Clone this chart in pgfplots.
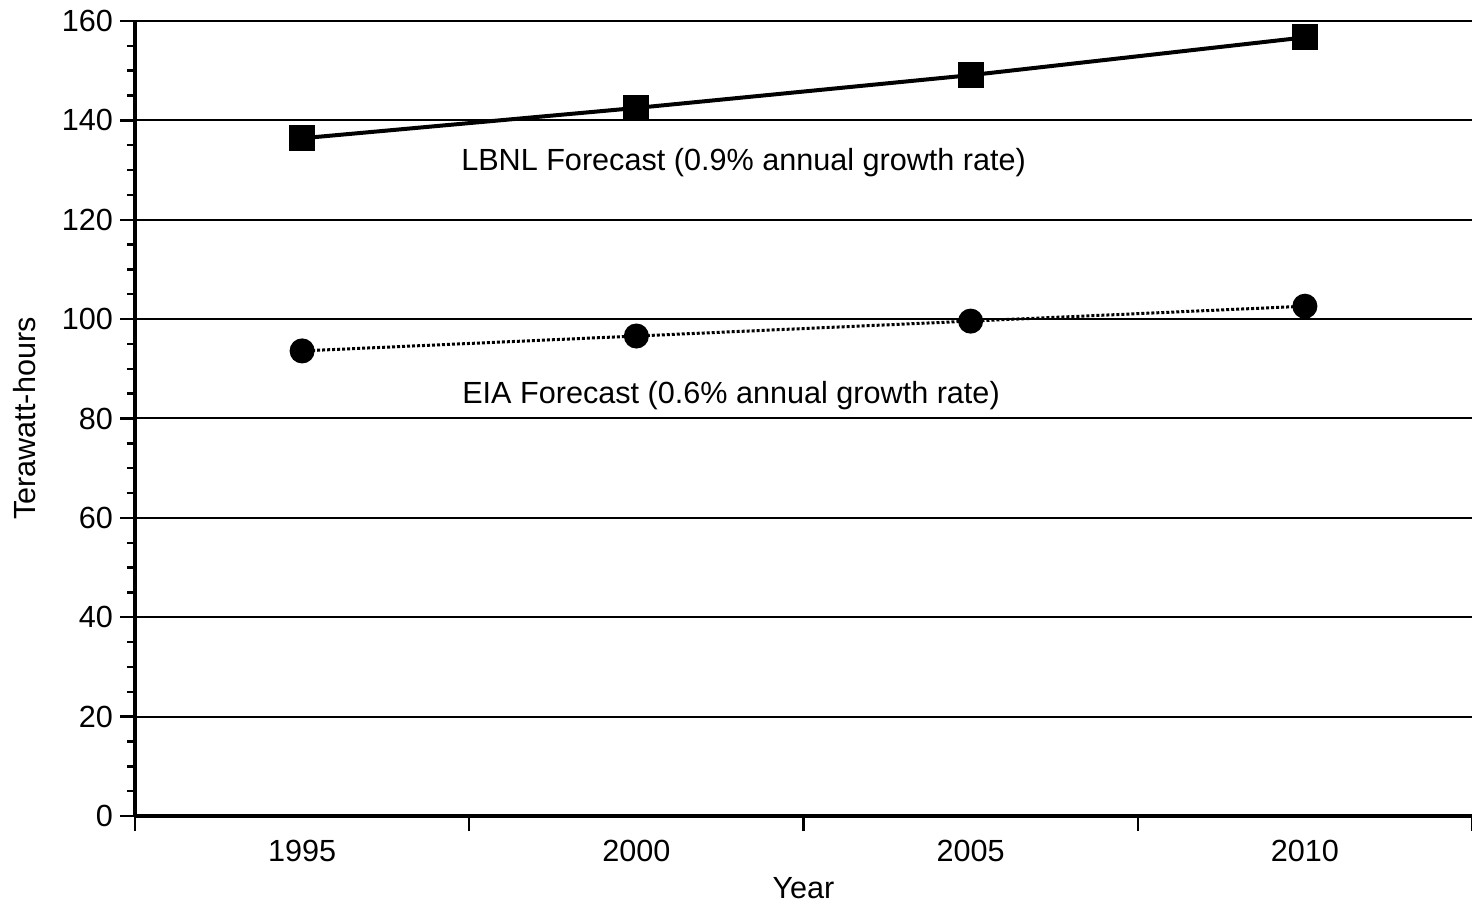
\documentclass[border=0pt]{standalone}
\usepackage{pgfplots}
\pgfplotsset{compat=1.18}
\usepackage{fontspec}
\setmainfont{Liberation Sans}
\begin{document}
\begin{tikzpicture}
\begin{axis}[
  name=ax,
  scale only axis,
  width=668.5pt, height=397.5pt,
  xmin=0, xmax=4, ymin=0, ymax=160,
  axis x line*=bottom, axis y line*=left,
  axis line style={line width=1.6pt},
  xtick={0,1,2,3,4},
  xticklabels={},
  extra x ticks={0.5,1.5,2.5,3.5},
  extra x tick labels={1995,2000,2005,2010},
  extra x tick style={major x tick style={draw=none}, grid=none,
     xticklabel style={anchor=center, yshift=-10pt}},
  ytick={0,20,...,160},
  minor y tick num=3,
  tick align=outside,
  major tick length=7.5pt, minor tick length=4pt,
  tick style={line width=1.2pt, black},
  ymajorgrids,
  major grid style={line width=1pt, black},
  ticklabel style={font=\fontsize{15.3}{18}\selectfont},
  /pgf/number format/assume math mode=true,
  xlabel={Year}, ylabel={Terawatt-hours},
  label style={font=\fontsize{15.3}{18}\selectfont},
  xlabel style={at={(rel axis cs:0.5,0)}, anchor=center, yshift=-36pt},
  ylabel style={at={(rel axis cs:0,0.5)}, anchor=center, yshift=55pt},
  clip=false,
]
\addplot[black, line width=2pt, mark=square*, mark size=5.5pt, mark options={solid}] coordinates {
  (0.5,136.4) (1.5,142.5) (2.5,149.1) (3.5,156.7)};
\addplot[black, line width=1.5pt, densely dotted, mark=*, mark size=5.5pt, mark options={solid}] coordinates {
  (0.5,93.6) (1.5,96.6) (2.5,99.6) (3.5,102.6)};
\node[anchor=west, font=\fontsize{15.3}{18}\selectfont, inner sep=0pt] at (axis cs:0.975,131.6) {LBNL Forecast (0.9\% annual growth rate)};
\node[anchor=west, font=\fontsize{15.3}{18}\selectfont, inner sep=0pt] at (axis cs:0.978,84.7) {EIA Forecast (0.6\% annual growth rate)};
\end{axis}
\pgfresetboundingbox
\path ([xshift=-67.5pt,yshift=-45pt]ax.south west) rectangle ([yshift=10.5pt]ax.north east);
\end{tikzpicture}
\end{document}
